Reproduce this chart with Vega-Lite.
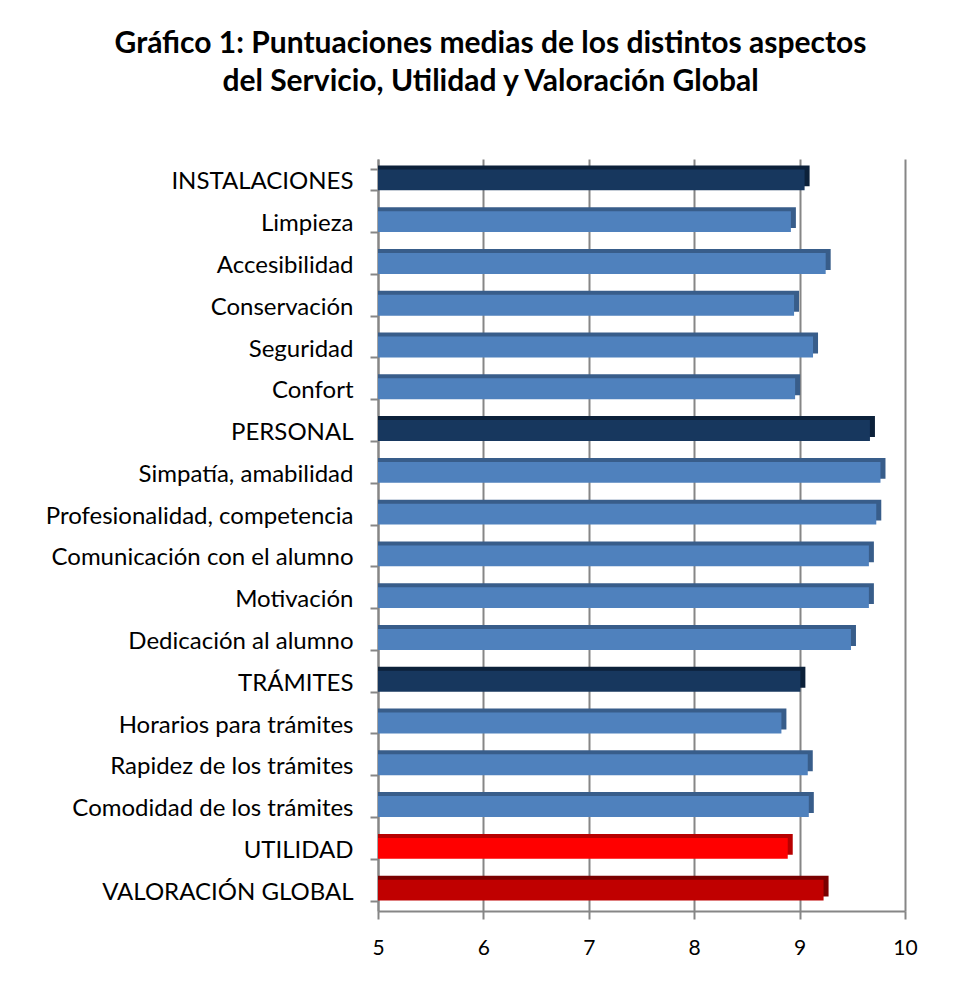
{
  "$schema": "https://vega.github.io/schema/vega-lite/v6.json",
  "autosize": {"type": "none"},
  "padding": {"left": 378, "top": 159, "right": 55, "bottom": 76},
  "width": 527,
  "height": 752,
  "background": "white",
  "title": {
    "text": ["Gráfico 1: Puntuaciones medias de los distintos aspectos", "del Servicio, Utilidad y Valoración Global"],
    "font": "Lato",
    "fontSize": 30,
    "fontWeight": "bold",
    "color": "black",
    "anchor": "middle",
    "dx": -151,
    "offset": 50,
    "lineHeight": 38
  },
  "data": {
    "values": [
      {"aspecto": "INSTALACIONES", "media": 9.0, "tipo": "bloque"},
      {"aspecto": "Limpieza", "media": 8.87, "tipo": "item"},
      {"aspecto": "Accesibilidad", "media": 9.2, "tipo": "item"},
      {"aspecto": "Conservación", "media": 8.9, "tipo": "item"},
      {"aspecto": "Seguridad ", "media": 9.08, "tipo": "item"},
      {"aspecto": "Confort", "media": 8.91, "tipo": "item"},
      {"aspecto": "PERSONAL", "media": 9.62, "tipo": "bloque"},
      {"aspecto": "Simpatía, amabilidad", "media": 9.72, "tipo": "item"},
      {"aspecto": "Profesionalidad, competencia", "media": 9.68, "tipo": "item"},
      {"aspecto": "Comunicación con el alumno", "media": 9.61, "tipo": "item"},
      {"aspecto": "Motivación", "media": 9.61, "tipo": "item"},
      {"aspecto": "Dedicación al alumno", "media": 9.44, "tipo": "item"},
      {"aspecto": "TRÁMITES", "media": 8.96, "tipo": "bloque"},
      {"aspecto": "Horarios para trámites", "media": 8.78, "tipo": "item"},
      {"aspecto": "Rapidez de los trámites", "media": 9.03, "tipo": "item"},
      {"aspecto": "Comodidad de los trámites", "media": 9.04, "tipo": "item"},
      {"aspecto": "UTILIDAD", "media": 8.84, "tipo": "utilidad"},
      {"aspecto": "VALORACIÓN GLOBAL", "media": 9.18, "tipo": "global"}
    ]
  },
  "encoding": {
    "y": {
      "field": "aspecto",
      "type": "nominal",
      "sort": null,
      "scale": {"paddingInner": 0.5, "paddingOuter": 0.25},
      "axis": {
        "title": null,
        "labelFont": "Lato",
        "labelFontSize": 24,
        "labelColor": "black",
        "labelPadding": 17,
        "labelLimit": 400,
        "labelOffset": 2,
        "tickBand": "extent",
        "tickSize": 8,
        "tickColor": "#868686",
        "tickWidth": 2,
        "domainColor": "#868686",
        "domainWidth": 2
      }
    },
    "x": {
      "field": "media",
      "type": "quantitative",
      "scale": {"domain": [5, 10], "nice": false, "zero": false},
      "axis": {
        "title": null,
        "values": [5, 6, 7, 8, 9, 10],
        "format": "d",
        "labelFont": "Lato",
        "labelFontSize": 21,
        "labelColor": "black",
        "labelPadding": 18,
        "labelFlush": false,
        "tickSize": 8,
        "tickColor": "#868686",
        "tickWidth": 2,
        "domainColor": "#868686",
        "domainWidth": 2,
        "grid": true,
        "gridColor": "#868686",
        "gridWidth": 2
      }
    },
    "x2": {"datum": 5}
  },
  "layer": [
    {
      "mark": {"type": "bar", "xOffset": 10, "yOffset": -4, "cornerRadius": 0},
      "encoding": {
        "color": {
          "field": "tipo",
          "type": "nominal",
          "legend": null,
          "scale": {"domain": ["bloque", "item", "utilidad", "global"], "range": ["#0C213A", "#385D8A", "#B80000", "#7A0000"]}
        }
      }
    },
    {
      "mark": {"type": "bar", "xOffset": 5},
      "encoding": {
        "color": {
          "field": "tipo",
          "type": "nominal",
          "legend": null,
          "scale": {"domain": ["bloque", "item", "utilidad", "global"], "range": ["#17375E", "#4F81BD", "#FF0000", "#C00000"]}
        }
      }
    }
  ],
  "resolve": {"scale": {"color": "independent"}},
  "config": {"view": {"stroke": null}}
}
